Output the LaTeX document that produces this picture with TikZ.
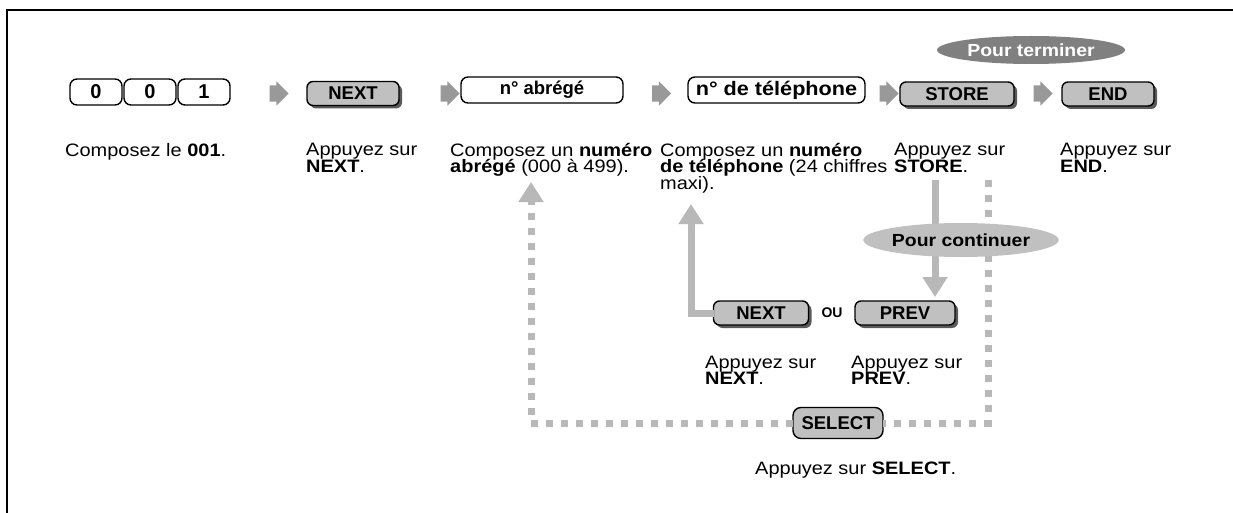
\documentclass[tikz,border=0pt]{standalone}
\usepackage{fontspec}
\setmainfont{Liberation Sans}[FakeStretch=1.11]
\newfontfamily\keyfont{Liberation Sans}
\usepackage{xcolor}
\usetikzlibrary{shapes.geometric, shapes.arrows, shadows, arrows.meta, positioning}
\definecolor{keygray}{HTML}{C0C0C0}
\definecolor{shadowgray}{HTML}{5A5A5A}
\definecolor{flowgray}{HTML}{999999}
\definecolor{linegray}{HTML}{B8B8B8}
\definecolor{termgray}{HTML}{808080}
\setlength{\lineskiplimit}{-20pt}

\begin{document}
\begin{tikzpicture}[x=1pt, y=1pt, font=\fontsize{18}{16.5}\selectfont]
    % Styles
    \tikzstyle{button} = [rectangle, draw, line width=1.4pt, fill=keygray, rounded corners=6pt, inner sep=0pt, outer sep=0pt, minimum height=24pt, font=\keyfont\fontsize{18.5}{19}\selectfont\bfseries]
    \tikzstyle{key} = [button, drop shadow={shadow xshift=3pt, shadow yshift=-3pt, fill=shadowgray, opacity=1}]
    \tikzstyle{entry} = [rectangle, draw, line width=1.4pt, fill=white, rounded corners=7pt, inner sep=0pt, outer sep=0pt, minimum height=26pt, font=\keyfont\fontsize{18.5}{19}\selectfont\bfseries]
    \tikzstyle{flow} = [single arrow, fill=flowgray, inner xsep=0pt, inner ysep=8pt, minimum height=19pt, single arrow head extend=4pt]
    \tikzstyle{desc} = [anchor=north west, align=left, inner sep=0pt]
    \tikzstyle{tag} = [ellipse, inner sep=0pt, font=\fontsize{17.5}{18}\selectfont\bfseries]
    \tikzstyle{line} = [draw=linegray, line width=7pt, -{Triangle[width=24pt, length=20pt]}]
    \tikzstyle{dotline} = [draw=linegray, line width=7pt, dash pattern=on 7pt off 8pt]

    \useasboundingbox (0,0) rectangle (1233,-513);
    \draw [line width=2.2pt] (1233,-10) -- (7,-10) -- (7,-513);

    % Nodes
    \node [entry, minimum width=52pt, font=\keyfont\fontsize{20}{20}\selectfont\bfseries] (k0a) at (96,-92) {0};
    \node [entry, minimum width=52pt, font=\keyfont\fontsize{20}{20}\selectfont\bfseries, right=2pt of k0a] (k0b) {0};
    \node [entry, minimum width=52pt, font=\keyfont\fontsize{20}{20}\selectfont\bfseries, right=2pt of k0b] (k0c) {1};
    \node [flow] (a1) at (275,-93.5) {};
    \node [key, minimum width=92pt] (knext) at (353,-93.5) {NEXT};
    \node [flow] (a2) at (446,-93.5) {};
    \node [entry, minimum width=162pt] (kabr) at (542,-90) {n° abrégé};
    \node [flow] (a3) at (657.5,-93.5) {};
    \node [entry, minimum width=177pt, font=\fontsize{19.5}{20}\selectfont\bfseries] (ktel) at (776.5,-90) {n° de téléphone};
    \node [flow] (a4) at (885,-93.5) {};
    \node [key, minimum width=114pt] (kstore) at (957,-94) {STORE};
    \node [flow] (a5) at (1039,-93.5) {};
    \node [key, minimum width=92pt] (kend) at (1108,-94) {END};
    \node [tag, fill=termgray, text=white, minimum width=188pt, minimum height=28pt] (term) at (1031,-50) {Pour terminer};

    \node [desc] (d001) at (65,-143) {Composez le \textbf{001}.};
    \node [desc] (dnext) at (306,-143) {Appuyez sur\\\textbf{NEXT}.};
    \node [desc] (dabr) at (450,-143) {Composez un \textbf{numéro}\\\textbf{abrégé} (000 à 499).};
    \node [desc] (dtel) at (660,-143) {Composez un \textbf{numéro}\\\textbf{de téléphone} (24 chiffres\\maxi).};
    \node [desc] (dstore) at (894,-143) {Appuyez sur\\\textbf{STORE}.};
    \node [desc] (dend) at (1060,-143) {Appuyez sur\\\textbf{END}.};

    \node [key, minimum width=95pt] (knext2) at (761,-313) {NEXT};
    \node [font=\keyfont\fontsize{14}{14}\selectfont\bfseries] (ou) at (832,-313) {OU};
    \node [key, minimum width=100pt] (kprev) at (905,-313) {PREV};
    \node [button, minimum width=90pt, minimum height=31pt, rounded corners=8pt] (kselect) at (838,-423) {SELECT};

    \node [desc] (dnext2) at (705,-355.5) {Appuyez sur\\\textbf{NEXT}.};
    \node [desc] (dprev) at (851,-355.5) {Appuyez sur\\\textbf{PREV}.};
    \node [desc] (dselect) at (755,-461.5) {Appuyez sur \textbf{SELECT}.};

    % Paths
    \coordinate (s1) at (935,-180);
    \coordinate (s2) at (988,-180);
    \coordinate (t1) at (691,-204);
    \coordinate (t2) at (531,-182);
    \path [line, shorten >=4pt] (s1) -- (s1 |- kprev.north);
    \path [line] (knext2.west) -| (t1);
    \path [dotline] (s2) |- (kselect.east);
    \path [dotline, -{Triangle[width=24pt, length=20pt]}] (kselect.west) -| (t2);
    \node [tag, fill=keygray, minimum width=154pt, minimum height=34pt] (cont) at (961,-240) {Pour continuer};
\end{tikzpicture}
\end{document}
